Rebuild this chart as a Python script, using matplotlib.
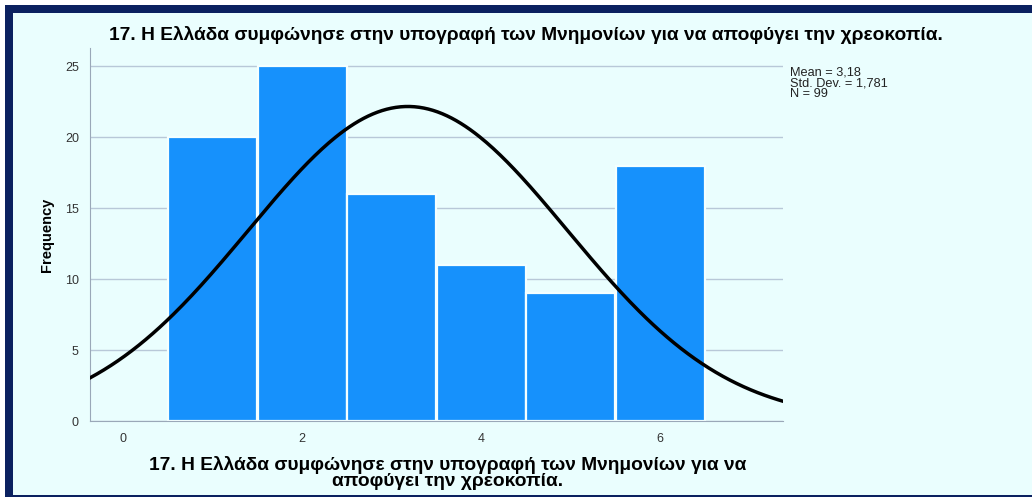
import numpy as np
import matplotlib.pyplot as plt
from matplotlib.patches import Rectangle

# data
values = [1, 2, 3, 4, 5, 6]
freq = [20, 25, 16, 11, 9, 18]
mean = 3.18
sd = 1.781
n = 99
title = "17. Η Ελλάδα συμφώνησε στην υπογραφή των Μνημονίων για να αποφύγει την χρεοκοπία."
xlab = "17. Η Ελλάδα συμφώνησε στην υπογραφή των Μνημονίων για να\nαποφύγει την χρεοκοπία."

plt.rcParams['font.family'] = ['Liberation Sans', 'DejaVu Sans']

bg = '#eafefe'
navy = '#0b2160'

fig = plt.figure(figsize=(10.32, 4.99), dpi=100)
fig.patch.set_facecolor('white')
W, H = 1032, 499
# navy frame
fig.patches.append(Rectangle((5 / W, 1 - 497 / H), 1 - 5 / W, (497 - 5) / H,
                             transform=fig.transFigure, facecolor=navy, edgecolor='none', zorder=-2))
fig.patches.append(Rectangle((13 / W, 1 - 495 / H), 1 - 13 / W, (495 - 13) / H,
                             transform=fig.transFigure, facecolor=bg, edgecolor='none', zorder=-1))

ax = fig.add_axes([90 / W, 1 - 421 / H, (783 - 90) / W, (421 - 48) / H])
ax.set_facecolor(bg)

ax.bar(values, freq, width=0.99, color='#1691fc', edgecolor='#f4ffff', linewidth=1.6, zorder=2)

xs = np.linspace(-0.37, 7.37, 300)
ys = n * 1.0 * np.exp(-0.5 * ((xs - mean) / sd) ** 2) / (sd * np.sqrt(2 * np.pi))
ax.plot(xs, ys, color='black', linewidth=2.5, zorder=3)

ax.set_xlim(-0.37, 7.37)
ax.set_ylim(0, 26.3)
ax.set_yticks([0, 5, 10, 15, 20, 25])
ax.set_xticks([0, 2, 4, 6])
ax.grid(axis='y', color='#b8c8d8', linewidth=1, zorder=0)
ax.set_axisbelow(True)
for s in ['top', 'right']:
    ax.spines[s].set_visible(False)
for s in ['left', 'bottom']:
    ax.spines[s].set_color('#9aa8b8')
ax.tick_params(length=0, labelsize=9, colors='#333333', pad=9)
ax.tick_params(axis='y', pad=8)

ax.set_ylabel('Frequency', fontsize=10.5, fontweight='bold', labelpad=8)

fig.text(526 / W, 1 - 35 / H, title, fontsize=13.8, fontweight='bold', ha='center', va='center')
fig.text(448 / W, 1 - 473 / H, xlab, fontsize=13.8, fontweight='bold', ha='center', va='center',
         linespacing=0.92)

fig.text(790 / W, 1 - 83 / H, "Mean = 3,18\nStd. Dev. = 1,781\nN = 99",
         fontsize=9.2, va='center', ha='left', linespacing=0.85, color='#222222')

fig.savefig('out.png', dpi=100, facecolor=fig.get_facecolor())
